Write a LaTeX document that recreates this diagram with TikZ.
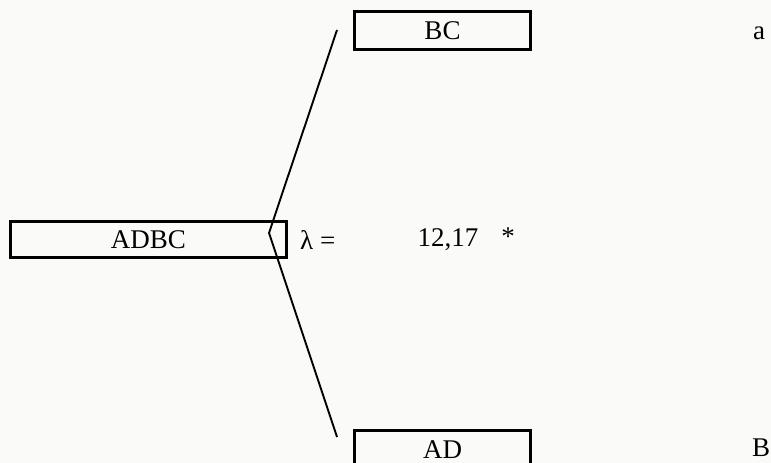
\documentclass[tikz,border=0pt]{standalone}
\usepackage{fontspec}
\setmainfont{Liberation Serif}
\definecolor{bgc}{RGB}{250,251,249}
\begin{document}
\begin{tikzpicture}[x=1pt,y=-1pt,
  txt/.style={font=\fontsize{27}{30}\selectfont, inner sep=0pt},
  box/.style={draw, line width=2.4pt, inner sep=0pt, font=\fontsize{27}{30}\selectfont},
  branch/.style={line width=1.9pt}]
\useasboundingbox (0,0) rectangle (771,463);
\fill[bgc] (0,0) rectangle (771,463);
\clip (0,0) rectangle (771,463);
\node[box, minimum width=176pt, minimum height=38pt] (bc) at (442.5,30.5) {BC};
\node[box, minimum width=276pt, minimum height=36pt] (adbc) at (148.5,239.5) {ADBC};
\node[box, minimum width=176pt, minimum height=38pt] (ad) at (442.5,449.5) {AD};
\coordinate (top) at (337,30);
\coordinate (k1) at (273,221);
\coordinate (tip) at (269,233);
\coordinate (bot) at (337,437);
\draw[branch] (top) -- (k1) -- (tip) -- (bot);
\node[txt, anchor=west] (lam) at (300,240) {λ =};
\node[txt] (val) at (448,240) {12,17};
\node[txt] (star) at (508,237) {*};
\node[txt] (a) at (759,33) {a};
\node[txt] (b) at (761,448) {B};
\end{tikzpicture}
\end{document}
